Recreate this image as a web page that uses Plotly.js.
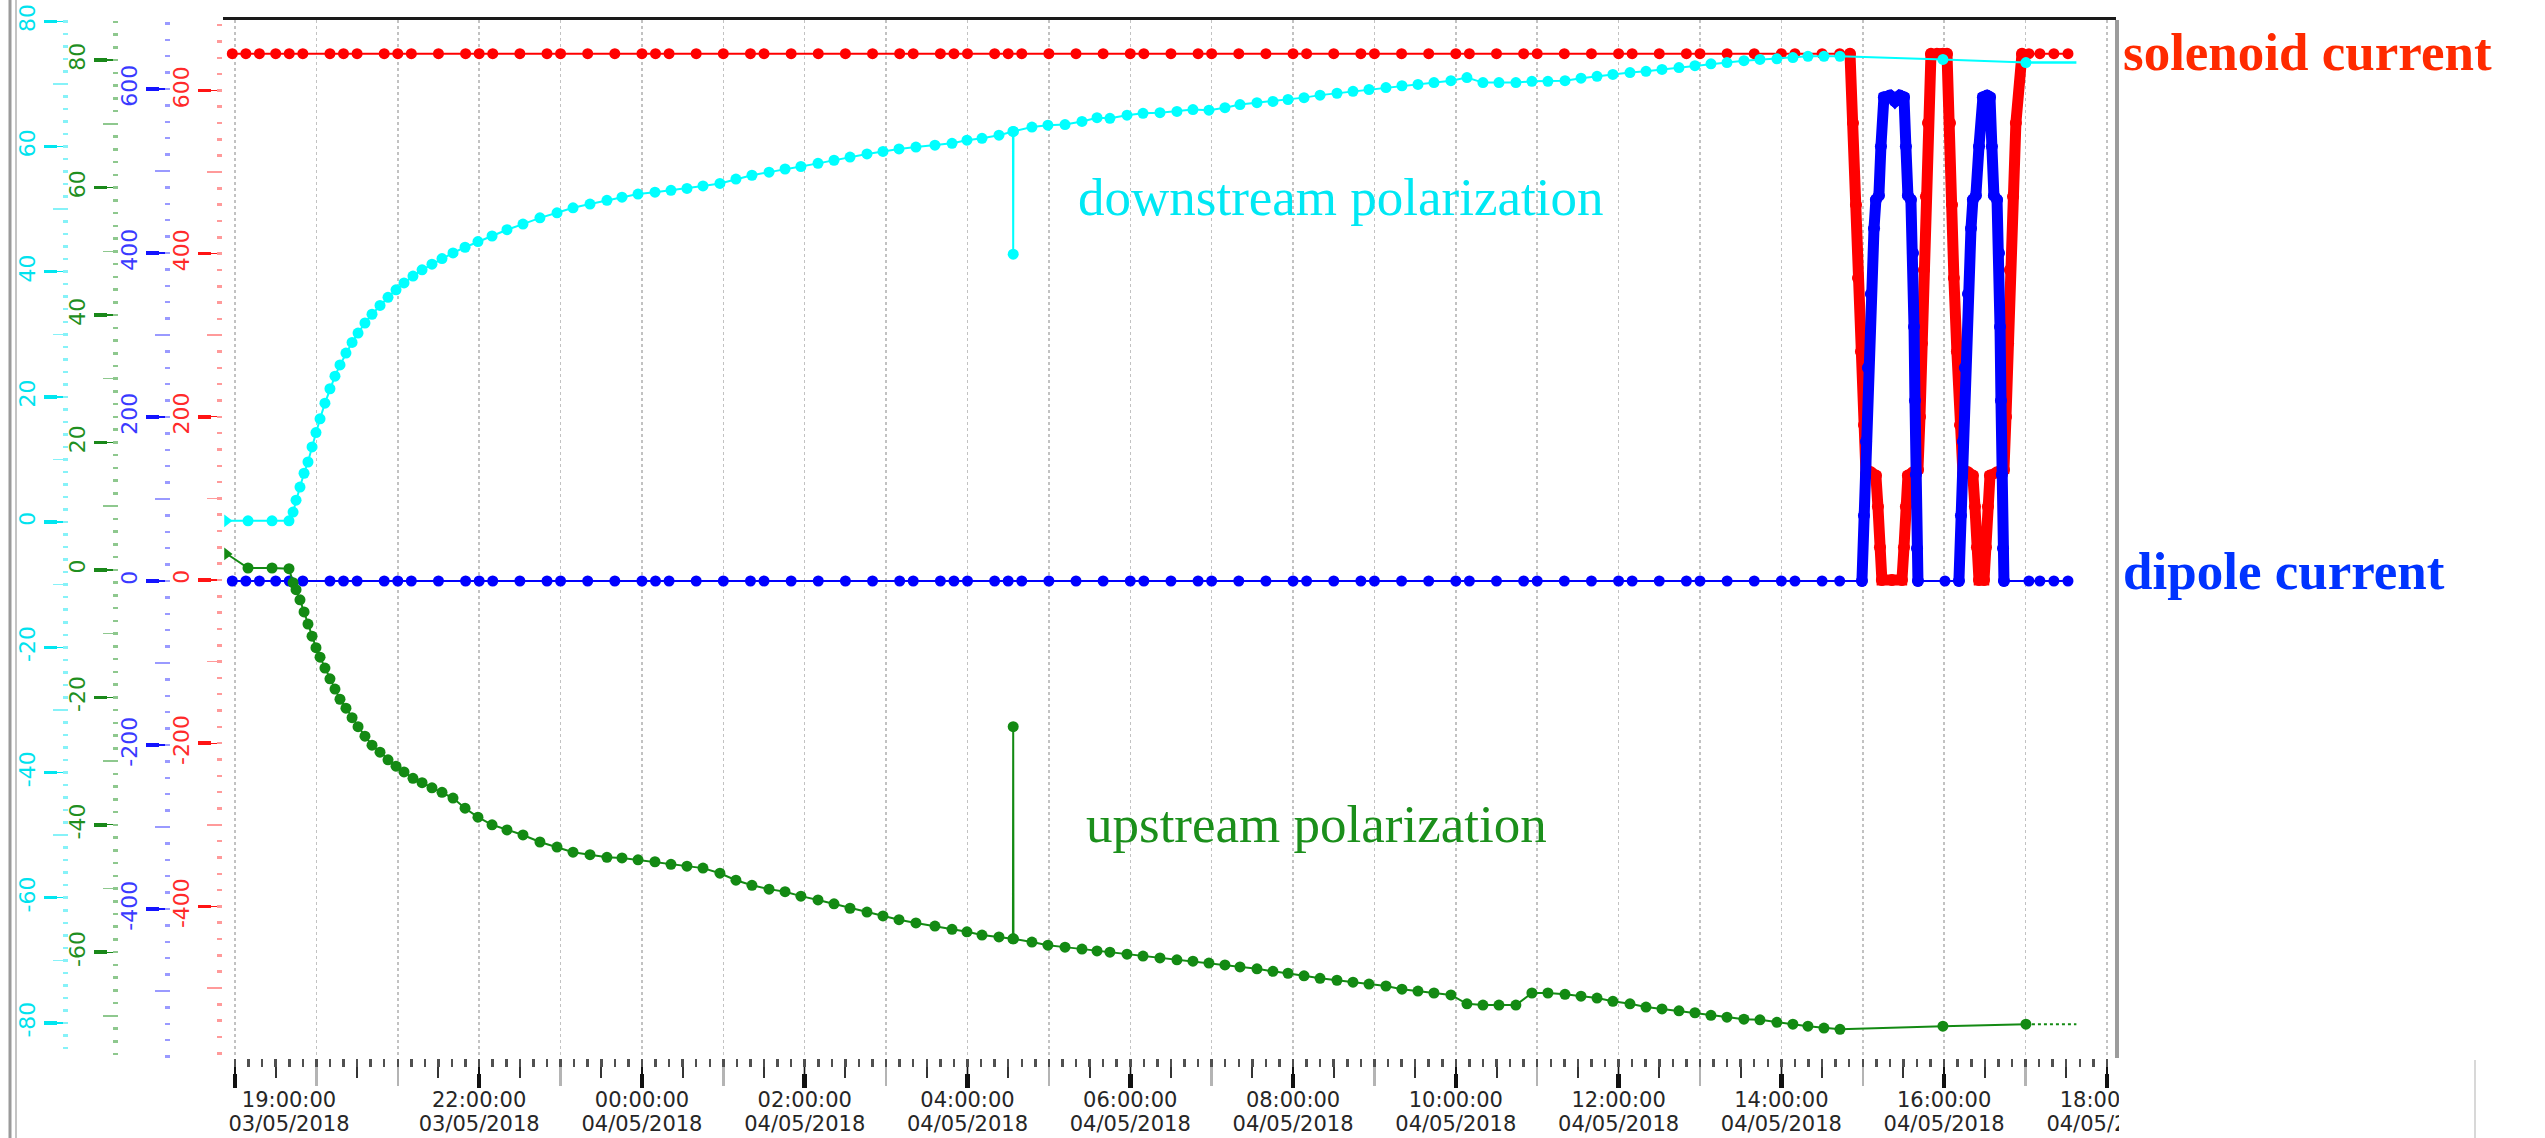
<!DOCTYPE html>
<html><head><meta charset="utf-8">
<script src="https://cdn.plot.ly/plotly-3.0.1.min.js"></script>
<style>html,body{margin:0;padding:0;background:#fff;overflow:hidden}#chart{width:2545px;height:1138px}</style>
</head><body><div id="chart"></div>
<script>
// ---------------- DATA (time = minutes after 19:00:00 03/05/2018) ----------------
const magnetTime = [-2, 8, 18, 30, 40, 50, 70, 80, 90, 110,
  120, 130, 150, 170, 180, 190, 210, 230, 240, 260,
  280, 300, 310, 320, 340, 360, 380, 390, 410, 430,
  450, 470, 490, 500, 520, 530, 540, 560, 570, 580,
  600, 620, 640, 660, 670, 690, 710, 720, 740, 760,
  780, 790, 810, 830, 840, 860, 880, 900, 910, 930,
  950, 960, 980, 1000, 1020, 1030, 1050, 1070, 1080, 1100,
  1120, 1140, 1150, 1170, 1183];
const solenoidCurrent = [645, 645, 645, 645, 645, 645, 645, 645, 645, 645,
  645, 645, 645, 645, 645, 645, 645, 645, 645, 645,
  645, 645, 645, 645, 645, 645, 645, 645, 645, 645,
  645, 645, 645, 645, 645, 645, 645, 645, 645, 645,
  645, 645, 645, 645, 645, 645, 645, 645, 645, 645,
  645, 645, 645, 645, 645, 645, 645, 645, 645, 645,
  645, 645, 645, 645, 645, 645, 645, 645, 645, 645,
  645, 645, 645, 645, 645];
const dipoleCurrent = [0, 0, 0, 0, 0, 0, 0, 0, 0, 0,
  0, 0, 0, 0, 0, 0, 0, 0, 0, 0,
  0, 0, 0, 0, 0, 0, 0, 0, 0, 0,
  0, 0, 0, 0, 0, 0, 0, 0, 0, 0,
  0, 0, 0, 0, 0, 0, 0, 0, 0, 0,
  0, 0, 0, 0, 0, 0, 0, 0, 0, 0,
  0, 0, 0, 0, 0, 0, 0, 0, 0, 0,
  0, 0, 0, 0, 0];

// spin-rotation ramps
const solenoidRamp1Time = [1190.6, 1192.8, 1195.0, 1196.5, 1198.7, 1200.9, 1202.4, 1206.0, 1209.7, 1211.2, 1212.7, 1214.1, 1221.5, 1228.9, 1230.4, 1231.8, 1233.3, 1237.0, 1240.7, 1242.2, 1243.6, 1245.1, 1246.6, 1248.1, 1250.3];
const solenoidRamp1 = [645, 560, 460, 370, 280, 190, 130, 132, 128, 90, 40, 0, 0, 0, 40, 90, 128, 132, 135, 200, 290, 380, 470, 560, 645];
const solenoidMidTime = [1254.7, 1259.1];
const solenoidMid = [645, 645];
const solenoidRamp2Time = [1262.1, 1264.3, 1265.8, 1267.2, 1269.4, 1271.7, 1273.9, 1277.6, 1281.2, 1282.7, 1284.2, 1285.7, 1289.4, 1290.8, 1292.3, 1293.8, 1299.0, 1304.1, 1305.6, 1307.1, 1308.5, 1310.8, 1312.9, 1317.4];
const solenoidRamp2 = [645, 560, 460, 370, 280, 190, 130, 132, 128, 90, 40, 0, 0, 40, 90, 128, 132, 135, 200, 290, 380, 470, 560, 645];

const dipoleRamp1Time = [1199.4, 1200.9, 1202.4, 1203.8, 1206.0, 1208.3, 1209.7, 1211.9, 1213.4, 1215.6, 1220.0, 1223.7, 1227.4, 1230.4, 1231.8, 1233.3, 1235.5, 1237.0, 1237.8, 1238.5, 1239.2, 1240.0, 1240.7];
const dipoleRamp1 = [0, 80, 170, 260, 350, 430, 465, 470, 530, 590, 592, 585, 592, 590, 530, 470, 465, 400, 310, 220, 130, 40, 0];
const dipoleMidTime = [1260.6];
const dipoleMid = [0];
const dipoleRamp2Time = [1270.9, 1272.4, 1273.9, 1275.3, 1277.6, 1279.8, 1281.2, 1283.4, 1285.7, 1288.6, 1291.6, 1293.8, 1295.2, 1296.7, 1299.0, 1300.4, 1301.2, 1301.9, 1302.6, 1303.4, 1304.1];
const dipoleRamp2 = [0, 80, 170, 260, 350, 430, 465, 470, 530, 590, 592, 590, 530, 470, 465, 400, 310, 220, 130, 40, 0];

const tailTime = [1322.5, 1330.6, 1340.9, 1351.3];
const solenoidTail = [645, 645, 645, 645];
const dipoleTail = [0, 0, 0, 0];

// NMR polarization samples
const polTime = [-5.9, 9.6, 27.3, 39.8, 42.8, 45.0, 47.9, 50.9, 53.8, 56.8,
  59.7, 62.7, 66.3, 70.0, 73.7, 77.4, 81.8, 86.3, 90.7, 95.8,
  101.0, 106.9, 112.8, 118.7, 124.6, 131.2, 137.9, 145.2, 152.6, 160.7,
  169.6, 179.1, 189.5, 200.5, 212.3, 224.8, 237.4, 249.2, 261.7, 274.2,
  285.3, 297.1, 309.6, 321.4, 333.2, 345.0, 357.5, 369.3, 381.1, 393.7,
  405.5, 417.2, 429.8, 441.6, 453.4, 465.9, 477.7, 489.5, 502.0, 516.0,
  528.6, 539.6, 550.7, 563.2, 573.5, 573.7, 573.9, 587.5, 599.3, 611.9,
  624.4, 635.5, 645.0, 657.6, 669.4, 681.9, 694.4, 706.2, 718.0, 729.8,
  740.9, 753.4, 765.2, 776.3, 788.1, 799.9, 812.4, 824.2, 836.0, 848.5,
  860.3, 872.1, 883.9, 896.4, 908.2, 920.0, 931.8, 944.3, 956.1, 967.9,
  980.5, 992.3, 1004.1, 1015.8, 1028.4, 1040.2, 1052.0, 1064.5, 1076.3, 1088.1,
  1099.9, 1112.4, 1124.2, 1136.7, 1148.5, 1159.6, 1171.4, 1183.2, 1259.1, 1320.3];
const downstreamPol = [0.2, 0.2, 0.2, 0.2, 1.6, 3.5, 5.6, 7.8, 9.6, 12.0,
  14.3, 16.5, 19.0, 21.3, 23.3, 25.1, 27.0, 28.7, 30.2, 31.8,
  33.2, 34.6, 35.9, 37.1, 38.2, 39.3, 40.3, 41.2, 42.1, 43.0,
  43.9, 44.8, 45.7, 46.7, 47.6, 48.6, 49.4, 50.2, 50.8, 51.4,
  51.9, 52.4, 52.7, 53.0, 53.3, 53.7, 54.1, 54.8, 55.4, 55.9,
  56.4, 56.8, 57.3, 57.8, 58.3, 58.8, 59.2, 59.6, 59.9, 60.2,
  60.5, 61.0, 61.3, 61.8, 62.4, 42.8, 62.4, 63.1, 63.4, 63.5,
  64.0, 64.6, 64.5, 65.0, 65.3, 65.4, 65.6, 65.9, 65.8, 66.2,
  66.7, 67.0, 67.2, 67.5, 67.8, 68.2, 68.5, 68.8, 69.1, 69.4,
  69.7, 69.9, 70.2, 70.5, 71.0, 70.2, 70.2, 70.2, 70.4, 70.4,
  70.5, 70.9, 71.2, 71.5, 71.8, 72.0, 72.3, 72.6, 72.9, 73.2,
  73.4, 73.7, 73.9, 74.0, 74.2, 74.4, 74.4, 74.4, 73.9, 73.4];
const upstreamPol = [2.5, 0.3, 0.3, 0.2, -2.0, -3.1, -4.7, -6.6, -8.5, -10.4,
  -12.2, -13.7, -15.4, -17.1, -18.7, -20.3, -21.7, -23.2, -24.6, -26.1,
  -27.5, -28.6, -29.8, -30.8, -31.7, -32.7, -33.4, -34.2, -34.9, -35.8,
  -37.4, -38.8, -40.0, -40.8, -41.6, -42.7, -43.5, -44.3, -44.7, -45.1,
  -45.2, -45.5, -45.8, -46.2, -46.5, -46.8, -47.6, -48.7, -49.5, -50.1,
  -50.5, -51.2, -51.8, -52.4, -53.1, -53.7, -54.3, -54.9, -55.4, -55.9,
  -56.4, -56.8, -57.3, -57.6, -57.9, -24.6, -57.9, -58.4, -58.9, -59.2,
  -59.5, -59.8, -60.0, -60.3, -60.6, -60.9, -61.2, -61.4, -61.7, -62.0,
  -62.3, -62.6, -63.0, -63.3, -63.7, -64.1, -64.4, -64.7, -65.0, -65.3,
  -65.8, -66.1, -66.4, -66.7, -68.1, -68.3, -68.3, -68.3, -66.4, -66.4,
  -66.6, -66.9, -67.2, -67.7, -68.1, -68.6, -68.9, -69.2, -69.5, -69.9,
  -70.2, -70.5, -70.6, -71.0, -71.3, -71.6, -71.9, -72.1, -71.6, -71.3];
// hold-lines to "now"
const nowTime = [1320.3, 1357.5];
const downstreamNow = [73.4, 73.4];
const upstreamNow = [-71.3, -71.3];

// ---------------- TICKS / LABELS ----------------
const labelTickMin = [0, 180, 300, 420, 540, 660, 780, 900, 1020, 1140, 1260, 1380];
const labelTickTime = ['19:00:00','22:00:00','00:00:00','02:00:00','04:00:00','06:00:00','08:00:00','10:00:00','12:00:00','14:00:00','16:00:00','18:00:00'];
const labelTickDate = ['03/05/2018','03/05/2018','04/05/2018','04/05/2018','04/05/2018','04/05/2018','04/05/2018','04/05/2018','04/05/2018','04/05/2018','04/05/2018','04/05/2018'];
const currentTicks = [-400, -200, 0, 200, 400, 600];
const currentTickText = ['-400', '-200', '0', '200', '400', '600'];
const currentMidTicks = [-500, -300, -100, 100, 300, 500];
const upTicks = [-60, -40, -20, 0, 20, 40, 60, 80];
const upTickText = ['-60', '-40', '-20', '0', '20', '40', '60', '80'];
const upMidTicks = [-70, -50, -30, -10, 10, 30, 50, 70];
const downTicks = [-80, -60, -40, -20, 0, 20, 40, 60, 80];
const downTickText = ['-80', '-60', '-40', '-20', '0', '20', '40', '60', '80'];
const downMidTicks = [-70, -50, -30, -10, 10, 30, 50, 70];

// ---------------- BUILD ----------------
const W = 2545, H = 1138;
const BASE = Date.UTC(2018, 4, 3, 19, 0, 0);
function t(m) { return new Date(BASE + Math.round(m * 60000)).toISOString().replace('T', ' ').replace('Z', ''); }
const T = a => a.map(t);
const px = v => v / W, py = v => 1 - v / H;

const xRange = [t(-8.85), t(1386.7)];
const xDomain = [px(223), px(2116)];
const yDomain = [py(1058), py(20)];
const hourMins = [];
for (let m = 0; m <= 1380; m += 60) hourMins.push(m);
const timeText = hourMins.map(m => { const i = labelTickMin.indexOf(m); return i > 0 ? labelTickTime[i] : ''; });
const dateText = hourMins.map(m => { const i = labelTickMin.indexOf(m); return i > 0 ? labelTickDate[i] : ''; });

const C = {
  red:  {trace: '#ff0000', label: '#ff2a2a', tick: '#ff1414', light: '#ff9a9a'},
  blue: {trace: '#0000ff', label: '#3a3aff', tick: '#1414ff', light: '#9a9aff'},
  green:{trace: '#138a13', label: '#1f8f1f', tick: '#1a881a', light: '#8ec88e'},
  cyan: {trace: '#00ffff', label: '#00e2ee', tick: '#00e6f0', light: '#86f2f8'}
};
const tickFont = {family: 'DejaVu Sans', size: 22};
const xFont = {family: 'DejaVu Sans', size: 21, color: '#262626'};

const layout = {
  width: W, height: H, margin: {l: 0, r: 0, t: 0, b: 0},
  paper_bgcolor: '#ffffff', plot_bgcolor: '#ffffff', showlegend: false, hovermode: false,
  xaxis: {type: 'date', domain: xDomain, range: xRange, anchor: 'y', fixedrange: true,
    tickmode: 'array', tickvals: T(hourMins), ticktext: timeText, tickangle: 0, ticklabelstandoff: -4,
    ticks: 'outside', ticklen: 27, tickwidth: 2.5, tickcolor: '#b4b4b4', tickfont: xFont,
    showgrid: true, gridcolor: '#c2c2c2', griddash: 'dot', gridwidth: 1.5, zeroline: false, showline: false}
};
function ovX(o) { return Object.assign({type: 'date', overlaying: 'x', range: xRange, anchor: 'y', fixedrange: true,
  showgrid: false, zeroline: false, showline: false, ticks: 'outside', showticklabels: false}, o); }
layout.xaxis2 = ovX({tickmode: 'array', tickvals: T(labelTickMin), ticklen: 27, tickwidth: 1.5, tickcolor: '#111111'});
layout.xaxis3 = ovX({anchor: 'free', position: py(1073), tickmode: 'array', tickvals: T(labelTickMin), ticklen: 14, tickwidth: 4.5, tickcolor: '#111111'});
layout.xaxis4 = ovX({tickmode: 'linear', tick0: t(30), dtick: 3600000, ticklen: 19, tickwidth: 2, tickcolor: '#333333'});
layout.xaxis5 = ovX({tickmode: 'linear', tick0: t(0), dtick: 600000, ticklen: 8, tickwidth: 2.5, tickcolor: '#505050'});
layout.xaxis6 = ovX({tickmode: 'array', tickvals: [t(labelTickMin[0])], ticktext: [labelTickTime[0]], ticklabelstandoff: -4,
  ticklen: 27, tickcolor: 'rgba(0,0,0,0)', showticklabels: true, tickfont: xFont, ticklabelshift: 54, tickangle: 0});
layout.xaxis7 = ovX({side: 'top', showline: true, linecolor: '#1a1a1a', linewidth: 3, ticks: ''});
layout.xaxis8 = ovX({tickmode: 'array', tickvals: T(hourMins), ticktext: dateText, ticklabelstandoff: 20,
  ticklen: 27, tickcolor: 'rgba(0,0,0,0)', showticklabels: true, tickfont: xFont, tickangle: 0});
layout.xaxis9 = ovX({tickmode: 'array', tickvals: [t(labelTickMin[0])], ticktext: [labelTickDate[0]], ticklabelstandoff: 20,
  ticklen: 27, tickcolor: 'rgba(0,0,0,0)', showticklabels: true, tickfont: xFont, ticklabelshift: 54, tickangle: 0});

const axesSpec = [
  {key: 'red',   pos: 222, range: [-585.8, 686.3], ticks: currentTicks, text: currentTickText, mid: currentMidTicks, dt: 20},
  {key: 'blue',  pos: 170, range: [-581.7, 684.1], ticks: currentTicks, text: currentTickText, mid: currentMidTicks, dt: 20},
  {key: 'green', pos: 118, range: [-76.6, 86.3],   ticks: upTicks,      text: upTickText,      mid: upMidTicks,      dt: 2},
  {key: 'cyan',  pos: 68,  range: [-85.6, 80.2],   ticks: downTicks,    text: downTickText,    mid: downMidTicks,    dt: 2}
];
function yAx(o) { return Object.assign({anchor: 'free', side: 'left', domain: yDomain, fixedrange: true, showgrid: false, zeroline: false,
  showline: false, ticks: 'outside', showticklabels: false}, o); }
const extraAxes = [];
axesSpec.forEach((s, i) => {
  const c = C[s.key];
  const id = i === 0 ? 'yaxis' : 'yaxis' + (i + 1);
  const prim = yAx({position: px(s.pos), range: s.range, tickmode: 'array', tickvals: s.ticks, ticktext: s.text,
    ticklen: 24, tickwidth: 1.3, tickcolor: c.tick, showticklabels: true, tickangle: -90,
    tickfont: Object.assign({color: c.label}, tickFont)});
  if (i > 0) prim.overlaying = 'y';
  layout[id] = prim;
  const base = {overlaying: 'y', range: s.range};
  layout['yaxis' + (5 + i)] = yAx(Object.assign({position: px(s.pos), tickmode: 'array', tickvals: s.mid, ticklen: 15, tickwidth: 1.5, tickcolor: c.light}, base));
  layout['yaxis' + (9 + i)] = yAx(Object.assign({position: px(s.pos), tickmode: 'linear', tick0: 0, dtick: s.dt, ticklen: 5, tickwidth: 2.5, tickcolor: c.light}, base));
  layout['yaxis' + (13 + i)] = yAx(Object.assign({position: px(s.pos - 11), tickmode: 'array', tickvals: s.ticks, ticklen: 13, tickwidth: 3.5, tickcolor: c.tick}, base));
  extraAxes.push('y' + (5 + i), 'y' + (9 + i), 'y' + (13 + i));
});
layout.yaxis17 = yAx({overlaying: 'y', side: 'right', position: px(2116), range: [-585.8, 686.3], showline: true, linecolor: '#9c9c9c', linewidth: 3.5, ticks: ''});
extraAxes.push('y17');

const traces = [];
extraAxes.forEach(a => traces.push({type: 'scatter', x: [], y: [], xaxis: 'x', yaxis: a, hoverinfo: 'skip', showlegend: false}));
['x2', 'x3', 'x4', 'x5', 'x6', 'x7', 'x8', 'x9'].forEach(a => traces.push({type: 'scatter', x: [], y: [], xaxis: a, yaxis: 'y', hoverinfo: 'skip', showlegend: false}));

const solT = magnetTime.concat(solenoidRamp1Time, solenoidMidTime, solenoidRamp2Time, tailTime);
const solV = solenoidCurrent.concat(solenoidRamp1, solenoidMid, solenoidRamp2, solenoidTail);
const dipT = magnetTime.concat(dipoleRamp1Time, dipoleMidTime, dipoleRamp2Time, tailTime);
const dipV = dipoleCurrent.concat(dipoleRamp1, dipoleMid, dipoleRamp2, dipoleTail);

const MS = 11;
function ser(x, y, ax, color, extra) {
  return Object.assign({type: 'scatter', mode: 'lines+markers', x: T(x), y: y, xaxis: 'x', yaxis: ax,
    line: {color: color, width: 2}, marker: {color: color, size: MS, line: {width: 0}}, hoverinfo: 'skip', showlegend: false}, extra || {});
}
function ramp(x, y, ax, color) {
  return {type: 'scatter', mode: 'lines+markers', x: T(x), y: y, xaxis: 'x', yaxis: ax, line: {color: color, width: 11},
    marker: {color: color, size: 12, line: {width: 0}}, hoverinfo: 'skip', showlegend: false};
}
// solenoid current (red axis)
traces.push(ser(solT, solV, 'y', C.red.trace));
traces.push(ramp(solenoidRamp1Time, solenoidRamp1, 'y', C.red.trace));
traces.push(ramp(solenoidMidTime, solenoidMid, 'y', C.red.trace));
traces.push(ramp(solenoidRamp2Time, solenoidRamp2, 'y', C.red.trace));
// dipole current (blue axis)
traces.push(ser(dipT, dipV, 'y2', C.blue.trace));
traces.push(ramp(dipoleRamp1Time, dipoleRamp1, 'y2', C.blue.trace));
traces.push(ramp(dipoleRamp2Time, dipoleRamp2, 'y2', C.blue.trace));
// upstream polarization (green axis)
const sym = polTime.map((_, i) => i === 0 ? 'triangle-right' : 'circle');
traces.push(ser(polTime, upstreamPol, 'y3', C.green.trace, {marker: {color: C.green.trace, size: MS, symbol: sym, line: {width: 0}}}));
traces.push({type: 'scatter', mode: 'lines', x: T(nowTime), y: upstreamNow, xaxis: 'x', yaxis: 'y3', line: {color: C.green.trace, width: 2, dash: 'dot'}, hoverinfo: 'skip', showlegend: false});
// downstream polarization (cyan axis)
traces.push(ser(polTime, downstreamPol, 'y4', C.cyan.trace, {marker: {color: C.cyan.trace, size: MS, symbol: sym, line: {width: 0}}}));
traces.push({type: 'scatter', mode: 'lines', x: T(nowTime), y: downstreamNow, xaxis: 'x', yaxis: 'y4', line: {color: C.cyan.trace, width: 2.5}, hoverinfo: 'skip', showlegend: false});

layout.annotations = [
  {text: 'downstream polarization', xref: 'paper', yref: 'paper', x: px(1076), y: py(197), xanchor: 'left', yanchor: 'middle', showarrow: false,
    font: {family: 'Liberation Serif', size: 53, color: '#00e8f4'}},
  {text: 'upstream polarization', xref: 'paper', yref: 'paper', x: px(1084), y: py(824), xanchor: 'left', yanchor: 'middle', showarrow: false,
    font: {family: 'Liberation Serif', size: 53, color: '#1b8f1b'}},
  {text: '<b>solenoid current</b>', xref: 'paper', yref: 'paper', x: px(2121), y: py(52), xanchor: 'left', yanchor: 'middle', showarrow: false,
    font: {family: 'Liberation Serif', size: 53, color: '#ff2a00'}},
  {text: '<b>dipole current</b>', xref: 'paper', yref: 'paper', x: px(2121), y: py(571), xanchor: 'left', yanchor: 'middle', showarrow: false,
    font: {family: 'Liberation Serif', size: 53, color: '#0033ff'}}
];
layout.shapes = [
  {type: 'line', xref: 'paper', yref: 'paper', x0: px(10), x1: px(10), y0: 0, y1: 1, line: {color: '#9a9a9a', width: 3}},
  {type: 'line', xref: 'paper', yref: 'paper', x0: px(16), x1: px(16), y0: 0, y1: 1, line: {color: '#c4c4c4', width: 2}},
  {type: 'rect', xref: 'paper', yref: 'paper', layer: 'above', x0: px(2119), x1: 1, y0: 0, y1: py(1080), fillcolor: '#ffffff', line: {width: 0}},
  {type: 'line', xref: 'paper', yref: 'paper', layer: 'above', x0: px(2475), x1: px(2475), y0: 0, y1: py(1060), line: {color: '#d8d8d8', width: 2}}
];

Plotly.newPlot('chart', traces, layout, {staticPlot: true, displayModeBar: false});
</script></body></html>
